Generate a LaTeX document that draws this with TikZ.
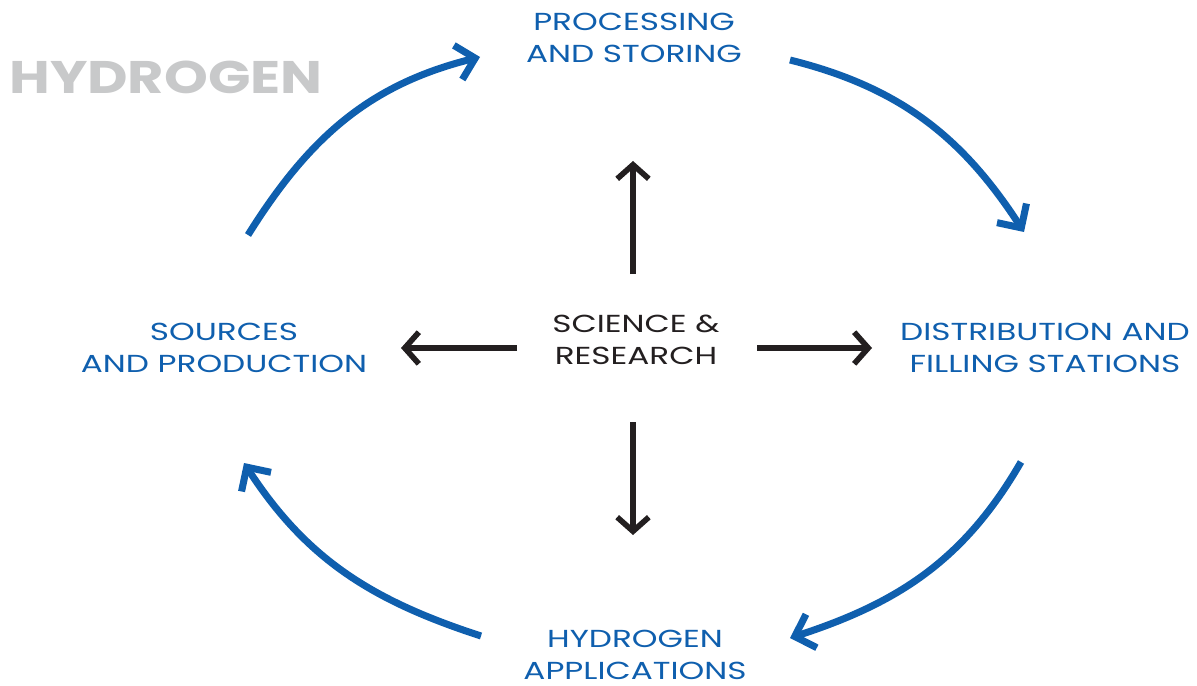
\documentclass[tikz,border=0pt]{standalone}
\usepackage{fontspec}
\setmainfont{Poppins}[FakeStretch=1.33]
\newfontfamily\titlefont{Poppins}[FakeStretch=1.22]
\usetikzlibrary{arrows.meta}
\definecolor{hblue}{HTML}{0F5FAE}
\definecolor{hgray}{HTML}{C8C9CA}
\definecolor{hblack}{HTML}{231F20}
\tikzset{
  lbl/.style={align=center, text=hblue, font=\fontsize{14pt}{18.2pt}\selectfont, inner sep=0pt},
  cyc/.style={draw=hblue, line width=4pt, -{Straight Barb[length=10pt,width=20pt]}},
  sci/.style={draw=hblack, line width=3.2pt, -{Straight Barb[length=8pt,width=18pt]}}
}
\begin{document}
\begin{tikzpicture}[x=0.02cm,y=-0.02cm]
\useasboundingbox (0,0) rectangle (1197,686);
\node[font=\titlefont\fontsize{26pt}{30pt}\selectfont\bfseries, text=hgray, inner sep=0pt] (title) at (166,77) {HYDROGEN};
\node[lbl] (proc) at (634,38) {PROCESSING\\AND STORING};
\node[lbl] (src) at (224,348) {SOURCES\\AND PRODUCTION};
\node[lbl] (dist) at (1045,348) {DISTRIBUTION AND\\FILLING STATIONS};
\node[lbl] (app) at (635,655) {HYDROGEN\\APPLICATIONS};
\node[lbl, text=hblack] (sr) at (636,340) {SCIENCE \&\\RESEARCH};
% black arrow ends
\coordinate (upS) at (633,274);
\coordinate (upE) at (633,161);
\coordinate (lfS) at (517,348);
\coordinate (lfE) at (401,348);
\coordinate (rtS) at (757,348);
\coordinate (rtE) at (872,348);
\coordinate (dnS) at (633,422);
\coordinate (dnE) at (633,535);
\draw[sci] (upS) -- (upE);
\draw[sci] (lfS) -- (lfE);
\draw[sci] (rtS) -- (rtE);
\draw[sci] (dnS) -- (dnE);
% blue cycle ends
\coordinate (a1) at (248,235);
\coordinate (a2) at (480,57);
\coordinate (b1) at (790,60);
\coordinate (b2) at (1024,232);
\coordinate (c1) at (1021,462);
\coordinate (c2) at (790,638);
\coordinate (d1) at (481,636);
\coordinate (d2) at (244,463);
\draw[cyc] (a1) to[out=58, in=194] (a2);
\draw[cyc] (b1) to[out=-14, in=123] (b2);
\draw[cyc] (c1) to[out=-120, in=18] (c2);
\draw[cyc] (d1) to[out=162, in=-57] (d2);
\end{tikzpicture}
\end{document}
